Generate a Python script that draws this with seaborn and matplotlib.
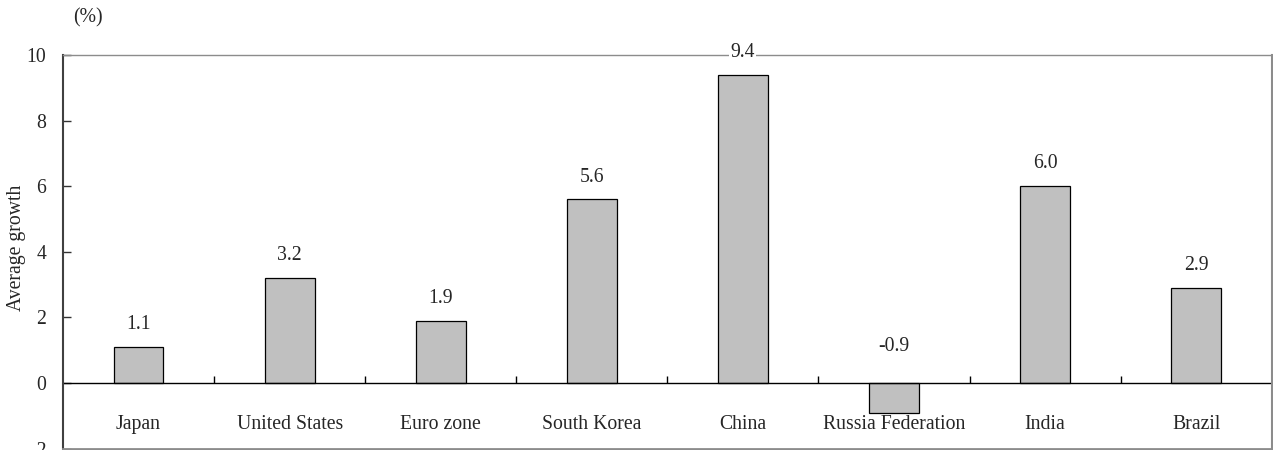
import matplotlib
matplotlib.use("Agg")
import matplotlib.pyplot as plt
import seaborn as sns
import pandas as pd

countries = ["Japan", "United States", "Euro zone", "South Korea", "China",
             "Russia Federation", "India", "Brazil"]
growth = [1.1, 3.2, 1.9, 5.6, 9.4, -0.9, 6.0, 2.9]
y_ticks = [-2, 0, 2, 4, 6, 8, 10]

FS = 14.2

sns.set_theme(style="white")
plt.rcParams["font.family"] = ["Liberation Serif", "DejaVu Serif"]
plt.rcParams["font.size"] = FS

df = pd.DataFrame({"country": countries, "growth": growth})

fig = plt.figure(figsize=(12.73, 4.5), dpi=100)
ax = fig.add_axes([0.0495, 0.003, 0.9495, 0.875])

sns.barplot(data=df, x="country", y="growth", color="#c0c0c0",
            edgecolor="black", linewidth=0.9, width=0.33, saturation=1, ax=ax)

ax.set_ylim(-2, 10)
ax.set_xlim(-0.5, len(countries) - 0.5)
ax.set_yticks(y_ticks)
ax.set_yticklabels([str(t) for t in y_ticks], fontsize=FS)
ax.tick_params(axis="y", direction="in", length=6, width=1, color="#333333",
               left=True, pad=12)
ax.tick_params(axis="x", bottom=False, labelbottom=False)
ax.set_xlabel("")
ax.set_ylabel("Average growth", fontsize=FS)
ax.yaxis.set_label_coords(-0.0305, 0.51)

# zero line with small separators between categories
ax.axhline(0, color="black", linewidth=1, zorder=1)
ax.vlines([i + 0.5 for i in range(len(countries) - 1)], 0, 0.2,
          color="black", linewidth=1, zorder=1)

# category names just below the zero line
for i, name in enumerate(countries):
    ax.text(i, -1.25, name, ha="center", va="center", fontsize=FS)

# value labels above each bar
for i, v in enumerate(growth):
    if v >= 0:
        ax.annotate(f"{v:.1f}", (i, v), xytext=(0, 16), textcoords="offset points",
                    ha="center", va="center", fontsize=FS,
                    bbox=dict(facecolor="white", edgecolor="none", pad=1))
    else:
        ax.annotate(f"{v:.1f}", (i, 0), xytext=(0, 26), textcoords="offset points",
                    ha="center", va="center", fontsize=FS)

for side in ["top", "right", "bottom"]:
    ax.spines[side].set_visible(True)
    ax.spines[side].set_color("#8c8c8c")
ax.spines["top"].set_linewidth(1)
ax.spines["right"].set_linewidth(1.5)
ax.spines["bottom"].set_linewidth(2)
ax.spines["left"].set_color("#404040")
ax.spines["left"].set_linewidth(1.5)
for t in ax.texts:
    t.set_zorder(5)

fig.text(0.069, 0.96, "(%)", ha="center", va="center", fontsize=FS)

fig.savefig("out.png", dpi=100)
